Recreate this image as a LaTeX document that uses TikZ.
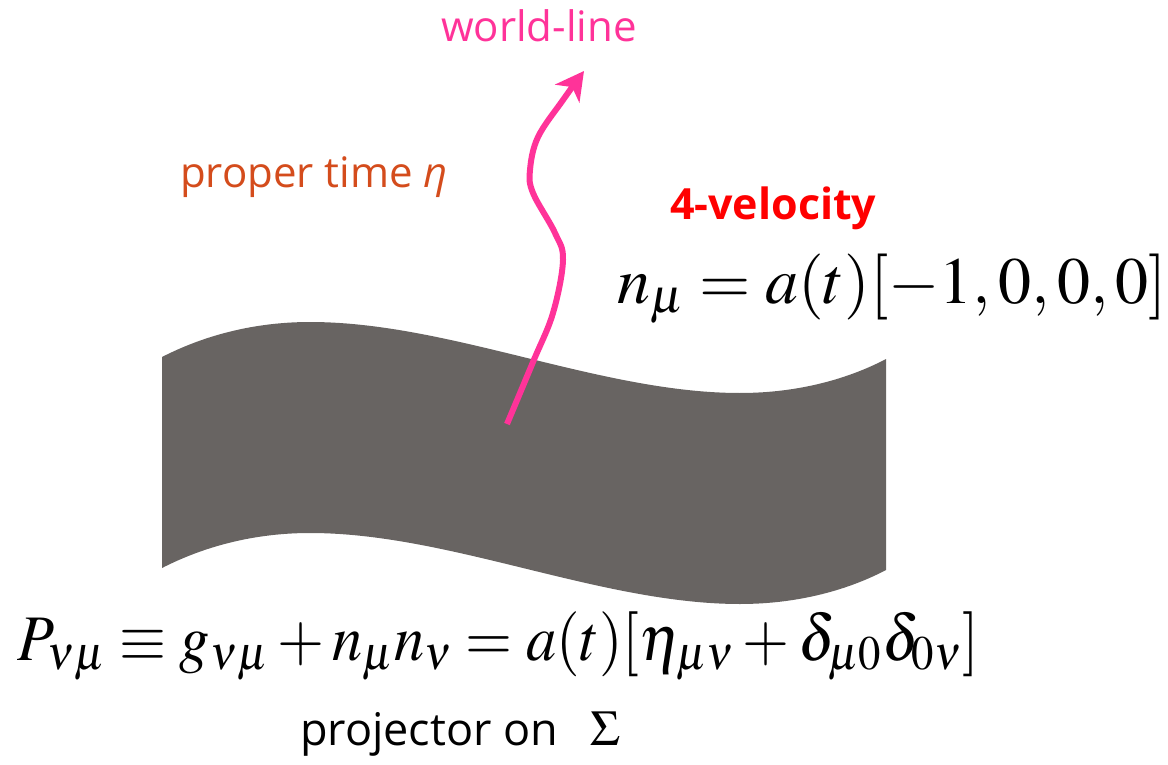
\documentclass[tikz,border=0pt]{standalone}
\usepackage{mathptmx}
\usepackage[no-math]{fontspec}
\newfontfamily\hsans{Open Sans}
\usetikzlibrary{arrows.meta}
\definecolor{bandgray}{RGB}{104,100,98}
\definecolor{wlpink}{RGB}{255,51,153}
\definecolor{ptorange}{RGB}{212,76,28}
\definecolor{vred}{RGB}{255,0,0}
\tikzset{
  lbl/.style={inner sep=0pt, outer sep=0pt},
}
\begin{document}
\begin{tikzpicture}[x=0.5pt,y=-0.5pt]
\useasboundingbox (0,0) rectangle (1168,765);
% band (hypersurface Sigma)
\fill[bandgray] (162,357) .. controls (205,335) and (255,322) .. (310,322)
  .. controls (450,322) and (600,393) .. (740,393)
  .. controls (800,393) and (850,378) .. (886,359)
  -- (886,570)
  .. controls (850,589) and (800,604) .. (740,604)
  .. controls (600,604) and (450,533) .. (310,533)
  .. controls (255,533) and (205,546) .. (162,568) -- cycle;
% world-line
\draw[wlpink, line width=3pt, line cap=butt, -{Stealth[length=14pt,width=15pt,inset=4pt]}]
  plot[smooth, tension=0.6] coordinates {(507,424) (533,362) (553,313) (563,260) (555,233) (533,193) (530,170) (538,137) (563,100) (584,71)};
% labels
\node[lbl, anchor=base, text=wlpink] (wl) at (539,42) {\fontsize{21pt}{24pt}\hsans world-line};
\node[lbl, anchor=base west, text=ptorange] (pt) at (180,187) {\fontsize{21pt}{24pt}\hsans proper time \itshape η};
\node[lbl, anchor=base west, text=vred] (fv) at (670,220) {\fontsize{21.5pt}{24pt}\hsans\bfseries 4-velocity};
\node[lbl, anchor=base west] (nm) at (617,303) {\fontsize{33pt}{38pt}\selectfont $n_{\mu} = a(t)[-1,0,0,0]$};
\node[lbl, anchor=base west] (pj) at (18,660) {\scalebox{0.93}[1]{\fontsize{32.5pt}{38pt}\selectfont $P_{\nu\mu} \equiv g_{\nu\mu} + n_{\mu}n_{\nu} = a(t)[\eta_{\mu\nu} + \delta_{\mu0}\delta_{0\nu}]$}};
\node[lbl, anchor=base west] (po) at (300,745) {\fontsize{22.5pt}{26pt}\hsans projector on\hspace{16pt}\fontsize{25pt}{30pt}\selectfont$\Sigma$};
\end{tikzpicture}
\end{document}
